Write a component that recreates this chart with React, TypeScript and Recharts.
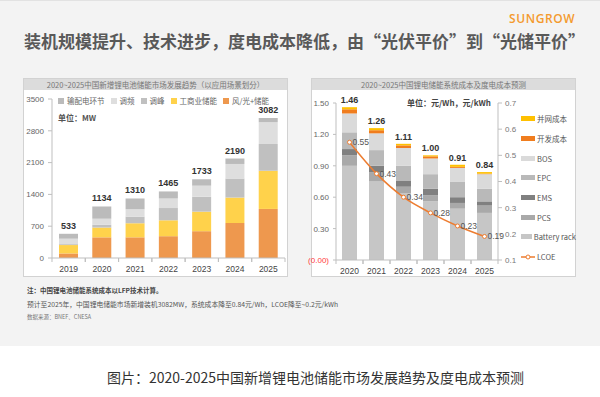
import React from 'react';
import { BarChart, ComposedChart, Bar, Line, XAxis, YAxis, LabelList, Legend } from 'recharts';

// ---------- Left chart data (MW) ----------
const years1 = ['2019', '2020', '2021', '2022', '2023', '2024', '2025'];
const windSolar = [100, 455, 455, 480, 590, 770, 1080];
const commercial = [185, 215, 310, 350, 430, 560, 840];
const peakShaving = [20, 60, 145, 270, 330, 420, 590];
const freqReg = [120, 135, 165, 210, 242, 320, 480];
const transmission = [108, 269, 235, 155, 141, 120, 92];
const totals1 = [533, 1134, 1310, 1465, 1733, 2190, 3082];
const ticks1 = [0, 700, 1400, 2100, 2800, 3500];

// ---------- Right chart data (元/Wh, 元/kWh) ----------
const years2 = ['2020', '2021', '2022', '2023', '2024', '2025'];
const batteryRack = [0.9, 0.75, 0.64, 0.56, 0.49, 0.45];
const pcs = [0.1, 0.09, 0.06, 0.06, 0.055, 0.07];
const ems = [0.06, 0.06, 0.06, 0.06, 0.055, 0.04];
const epc = [0.16, 0.15, 0.14, 0.14, 0.15, 0.12];
const bos = [0.18, 0.16, 0.17, 0.15, 0.13, 0.14];
const devCost = [0.04, 0.03, 0.025, 0.02, 0.01, 0.005];
const gridCost = [0.02, 0.02, 0.015, 0.01, 0.02, 0.015];
const totals2 = [1.46, 1.26, 1.11, 1.0, 0.91, 0.84];
const lcoe = [0.55, 0.43, 0.34, 0.28, 0.23, 0.19];
const ticks2L = [0, 0.3, 0.6, 0.9, 1.2, 1.5];
const ticks2R = [0.1, 0.2, 0.3, 0.4, 0.5, 0.6, 0.7];

const data1 = years1.map((y, i) => ({
  year: y,
  windSolar: windSolar[i],
  commercial: commercial[i],
  peakShaving: peakShaving[i],
  freqReg: freqReg[i],
  transmission: transmission[i],
  total: totals1[i],
}));

const data2 = years2.map((y, i) => ({
  year: y,
  batteryRack: batteryRack[i],
  pcs: pcs[i],
  ems: ems[i],
  epc: epc[i],
  bos: bos[i],
  devCost: devCost[i],
  gridCost: gridCost[i],
  total: totals2[i],
  lcoe: lcoe[i],
}));

const C = {
  windSolar: '#ee984e',
  commercial: '#ffd24b',
  peakShaving: '#c0c0c0',
  freqReg: '#dedede',
  transmission: '#bbbbbb',
  batteryRack: '#c6c6c6',
  pcs: '#a9a9a9',
  ems: '#808080',
  epc: '#b9b9b9',
  bos: '#dadada',
  devCost: '#f07d1e',
  gridCost: '#ffc000',
  lcoe: '#ed7d31',
};

const legend1 = [
  { key: 'transmission', name: '输配电环节' },
  { key: 'freqReg', name: '调频' },
  { key: 'peakShaving', name: '调峰' },
  { key: 'commercial', name: '工商业储能' },
  { key: 'windSolar', name: '风/光+储能' },
];

const legend2 = [
  { key: 'gridCost', name: '并网成本', type: 'rect' },
  { key: 'devCost', name: '开发成本', type: 'rect' },
  { key: 'bos', name: 'BOS', type: 'rect' },
  { key: 'epc', name: 'EPC', type: 'rect' },
  { key: 'ems', name: 'EMS', type: 'rect' },
  { key: 'pcs', name: 'PCS', type: 'rect' },
  { key: 'batteryRack', name: 'Battery rack', type: 'rect' },
  { key: 'lcoe', name: 'LCOE', type: 'line' },
];

const FONT = '"Liberation Sans", "Noto Sans CJK SC", sans-serif';
const CJK = '"Noto Sans CJK SC", "Liberation Sans", sans-serif';

const XTick = (props: any) => {
  const { x, y, payload, band } = props;
  return (
    <g>
      <line x1={x - band / 2} y1={y} x2={x - band / 2} y2={y + 4} stroke="#bfbfbf" />
      <line x1={x + band / 2} y1={y} x2={x + band / 2} y2={y + 4} stroke="#bfbfbf" />
      <text x={x} y={y + 14} textAnchor="middle" fontSize={8.5} fill="#444" fontFamily={FONT}>
        {payload.value}
      </text>
    </g>
  );
};

const LeftYTick2 = (props: any) => {
  const { x, y, payload } = props;
  const v = payload.value;
  const zero = v === 0;
  return (
    <text x={x} y={y + 3} textAnchor="end" fontSize={8} fill={zero ? '#ff3b3b' : '#666'} fontFamily={FONT}>
      {zero ? '(0.00)' : v.toFixed(2)}
    </text>
  );
};

const Legend1Content = () => (
  <div style={{ display: 'flex', alignItems: 'center', fontFamily: CJK, fontSize: 7.5, lineHeight: '8px', height: 8, color: '#666', whiteSpace: 'nowrap' }}>
    {legend1.map((l) => (
      <div key={l.key} style={{ display: 'flex', alignItems: 'center', marginRight: 6, height: 8 }}>
        <span style={{ display: 'inline-block', width: 6, height: 6, background: (C as any)[l.key], marginRight: 3 }} />
        <span>{l.name}</span>
      </div>
    ))}
  </div>
);

const Legend2Content = () => (
  <div style={{ fontFamily: CJK, fontSize: 7.5, color: '#555', whiteSpace: 'nowrap' }}>
    {legend2.map((l) => (
      <div key={l.key} style={{ display: 'flex', alignItems: 'center', height: 19.7 }}>
        {l.type === 'rect' ? (
          <span style={{ display: 'inline-block', width: 14, height: 5, background: (C as any)[l.key], marginRight: 2 }} />
        ) : (
          <svg width={14} height={6} style={{ marginRight: 2 }}>
            <line x1={0} y1={3} x2={14} y2={3} stroke={C.lcoe} strokeWidth={1.5} />
            <circle cx={7} cy={3} r={2} fill="#fff" stroke={C.lcoe} strokeWidth={1} />
          </svg>
        )}
        <span>{l.name}</span>
      </div>
    ))}
  </div>
);

const panelStyle = (left: number): React.CSSProperties => ({
  position: 'absolute',
  left,
  top: 78,
  width: 265,
  height: 199,
  boxSizing: 'border-box',
  border: '1px solid #d2d2d2',
  background: '#ffffff',
});

const headerStyle: React.CSSProperties = {
  position: 'absolute',
  left: 0,
  top: 0,
  right: 0,
  height: 11,
  background: '#dcdcdc',
  color: '#777',
  fontSize: 7.5,
  lineHeight: '11px',
  textAlign: 'center',
  fontFamily: CJK,
  whiteSpace: 'nowrap',
};

export default function App() {
  return (
    <div style={{ position: 'absolute', left: 0, top: 0, width: 600, height: 397, background: '#ffffff', overflow: 'hidden', fontFamily: CJK }}>
      <div style={{ position: 'absolute', left: 0, top: 0, width: 600, height: 346, background: '#f3f3f3', borderTop: '1px solid #e2e2e2', boxSizing: 'border-box' }} />
      <div style={{ position: 'absolute', left: 509, top: 12, color: '#f39a2e', fontFamily: '"Open Sans", "Liberation Sans", sans-serif', fontWeight: 600, fontSize: 12, letterSpacing: 0.6, lineHeight: '14px' }}>
        SUNGROW
      </div>
      <div style={{ position: 'absolute', left: 24, top: 31, color: '#595959', fontWeight: 700, fontSize: 17, lineHeight: '20px', whiteSpace: 'nowrap', fontFamily: CJK }}>
        装机规模提升、技术进步，度电成本降低，由“光伏平价”到“光储平价”
      </div>

      {/* Left panel */}
      <div style={panelStyle(23)}>
        <div style={headerStyle}>2020~2025中国新增锂电池储能市场发展趋势（以应用场景划分）</div>
      </div>
      <div style={{ position: 'absolute', left: 58, top: 112, fontSize: 8, fontWeight: 700, color: '#555', fontFamily: CJK }}>单位：MW</div>
      <div style={{ position: 'absolute', left: 23, top: 88, fontFamily: FONT }}>
        <BarChart width={265} height={187} data={data1} margin={{ top: 11, right: 3, bottom: 0, left: 0 }} barSize={19}>
          <XAxis
            dataKey="year"
            height={17}
            interval={0}
            tickSize={0}
            tickMargin={0}
            axisLine={{ stroke: '#bfbfbf' }}
            tickLine={false}
            tick={(p: any) => <XTick {...p} band={33.3} />}
          />
          <YAxis
            width={29}
            domain={[0, 3500]}
            ticks={ticks1}
            interval={0}
            tickSize={4}
            tickMargin={4}
            axisLine={{ stroke: '#bfbfbf' }}
            tickLine={{ stroke: '#bfbfbf' }}
            tick={{ fontSize: 8, fill: '#666', fontFamily: FONT }}
          />
          <Legend
            layout="horizontal"
            verticalAlign="middle"
            align="center"
            wrapperStyle={{ left: 35, top: 9, width: 230, height: 8 }}
            content={<Legend1Content />}
          />
          <Bar dataKey="windSolar" name="风/光+储能" stackId="a" fill={C.windSolar} isAnimationActive={false} />
          <Bar dataKey="commercial" name="工商业储能" stackId="a" fill={C.commercial} isAnimationActive={false} />
          <Bar dataKey="peakShaving" name="调峰" stackId="a" fill={C.peakShaving} isAnimationActive={false} />
          <Bar dataKey="freqReg" name="调频" stackId="a" fill={C.freqReg} isAnimationActive={false} />
          <Bar dataKey="transmission" name="输配电环节" stackId="a" fill={C.transmission} isAnimationActive={false}>
            <LabelList dataKey="total" position="top" offset={5} style={{ fontSize: 9, fontWeight: 700, fill: '#333', fontFamily: FONT }} />
          </Bar>
        </BarChart>
      </div>

      {/* Right panel */}
      <div style={panelStyle(311)}>
        <div style={headerStyle}>2020~2025中国锂电储能系统成本及度电成本预测</div>
      </div>
      <div style={{ position: 'absolute', left: 407, top: 97, fontSize: 8, fontWeight: 700, color: '#444', fontFamily: CJK, whiteSpace: 'nowrap' }}>单位：元/Wh，元/kWh</div>
      <div style={{ position: 'absolute', left: 305, top: 88, fontFamily: FONT }}>
        <ComposedChart width={271} height={189} data={data2} margin={{ top: 15, right: 0, bottom: 0, left: 0 }} barSize={15}>
          <XAxis
            dataKey="year"
            height={17}
            interval={0}
            tickSize={0}
            tickMargin={0}
            axisLine={{ stroke: '#bfbfbf' }}
            tickLine={false}
            tick={(p: any) => <XTick {...p} band={27} />}
          />
          <YAxis
            yAxisId="left"
            width={31}
            domain={[0, 1.5]}
            ticks={ticks2L}
            interval={0}
            tickSize={3}
            tickMargin={4}
            axisLine={{ stroke: '#bfbfbf' }}
            tickLine={{ stroke: '#bfbfbf' }}
            tick={(p: any) => <LeftYTick2 {...p} />}
          />
          <YAxis
            yAxisId="right"
            orientation="right"
            width={78}
            domain={[0.1, 0.7]}
            ticks={ticks2R}
            interval={0}
            tickSize={4}
            tickMargin={3}
            axisLine={{ stroke: '#bfbfbf' }}
            tickLine={{ stroke: '#bfbfbf' }}
            tick={{ fontSize: 8, fill: '#777', fontFamily: FONT }}
            tickFormatter={(v: number) => v.toFixed(1)}
          />
          <Legend
            layout="vertical"
            verticalAlign="middle"
            align="center"
            wrapperStyle={{ left: 216, top: 21, width: 55 }}
            content={<Legend2Content />}
          />
          <Bar yAxisId="left" dataKey="batteryRack" name="Battery rack" stackId="b" fill={C.batteryRack} isAnimationActive={false} />
          <Bar yAxisId="left" dataKey="pcs" name="PCS" stackId="b" fill={C.pcs} isAnimationActive={false} />
          <Bar yAxisId="left" dataKey="ems" name="EMS" stackId="b" fill={C.ems} isAnimationActive={false} />
          <Bar yAxisId="left" dataKey="epc" name="EPC" stackId="b" fill={C.epc} isAnimationActive={false} />
          <Bar yAxisId="left" dataKey="bos" name="BOS" stackId="b" fill={C.bos} isAnimationActive={false} />
          <Bar yAxisId="left" dataKey="devCost" name="开发成本" stackId="b" fill={C.devCost} isAnimationActive={false} />
          <Bar yAxisId="left" dataKey="gridCost" name="并网成本" stackId="b" fill={C.gridCost} isAnimationActive={false}>
            <LabelList
              dataKey="total"
              position="top"
              offset={4}
              formatter={(v: any) => Number(v).toFixed(2)}
              style={{ fontSize: 9, fontWeight: 700, fill: '#333', fontFamily: FONT }}
            />
          </Bar>
          <Line
            yAxisId="right"
            type="monotone"
            dataKey="lcoe"
            name="LCOE"
            stroke={C.lcoe}
            strokeWidth={1.5}
            dot={{ r: 2, fill: '#fff', stroke: C.lcoe, strokeWidth: 1 }}
            isAnimationActive={false}
          >
            <LabelList
              dataKey="lcoe"
              position="right"
              offset={3}
              formatter={(v: any) => Number(v).toFixed(2)}
              style={{ fontSize: 8.5, fill: '#555', fontFamily: FONT }}
            />
          </Line>
        </ComposedChart>
      </div>

      {/* Notes */}
      <div style={{ position: 'absolute', left: 27, top: 286, fontSize: 6.5, fontWeight: 700, color: '#444', whiteSpace: 'nowrap', fontFamily: CJK, lineHeight: '9px' }}>
        注：中国锂电池储能系统成本以LFP技术计算。
      </div>
      <div style={{ position: 'absolute', left: 27, top: 300, fontSize: 6.8, color: '#555', whiteSpace: 'nowrap', fontFamily: CJK, lineHeight: '9px' }}>
        预计至2025年，中国锂电储能市场新增装机3082MW，系统成本降至0.84元/Wh，LCOE降至~0.2元/kWh
      </div>
      <div style={{ position: 'absolute', left: 27, top: 313, fontSize: 5.5, color: '#777', whiteSpace: 'nowrap', fontFamily: CJK, lineHeight: '8px' }}>
        数据来源：BNEF、CNESA
      </div>

      {/* Caption */}
      <div style={{ position: 'absolute', left: 107, top: 368, fontSize: 14, color: '#333', whiteSpace: 'nowrap', fontFamily: CJK, lineHeight: '18px' }}>
        图片：2020-2025中国新增锂电池储能市场发展趋势及度电成本预测
      </div>
    </div>
  );
}
